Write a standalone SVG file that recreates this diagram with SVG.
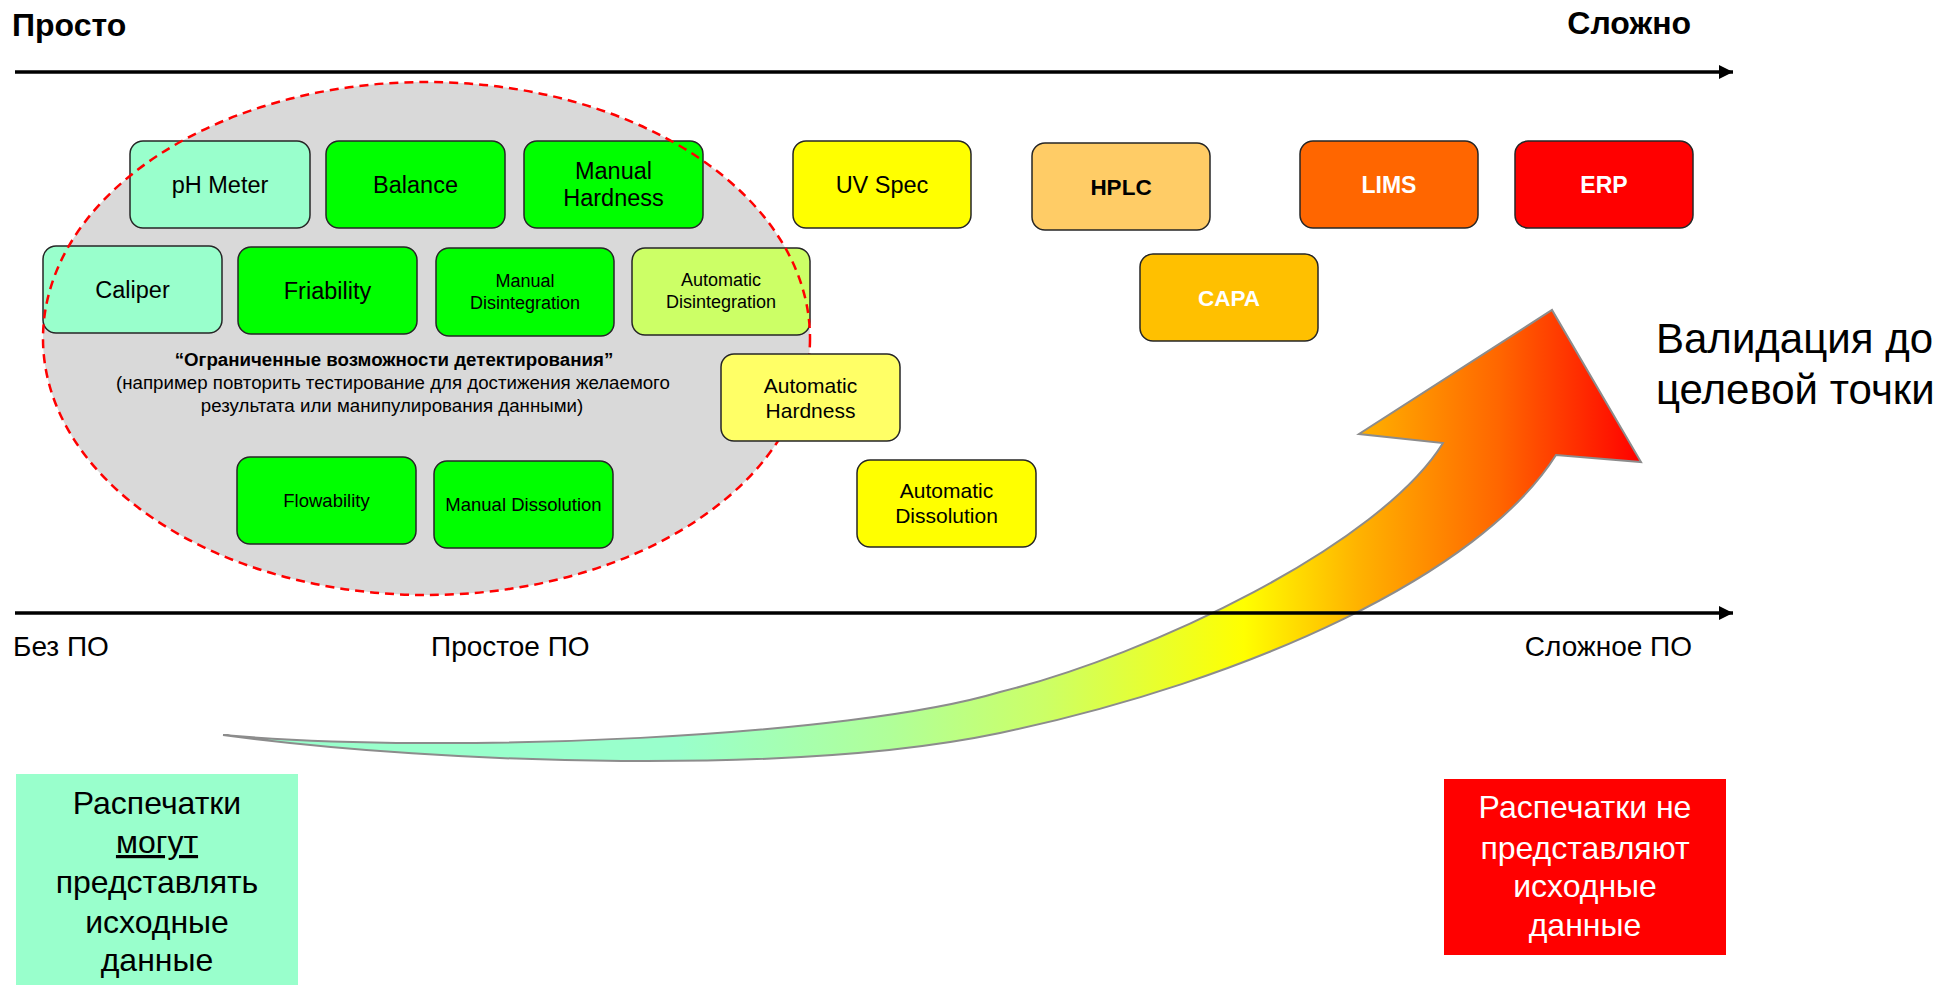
<svg xmlns="http://www.w3.org/2000/svg" width="1942" height="985" viewBox="0 0 1942 985">
<style>
.box{stroke:#262626;stroke-width:1.5}
.t{font-family:"Liberation Sans",Arial,sans-serif;text-anchor:middle;fill:#000}
.b{font-weight:bold}
.w{fill:#fff}
.axis{stroke:#000;stroke-width:3.5;fill:none}
.lbl{font-family:"Liberation Sans",Arial,sans-serif;fill:#000}
</style>
<defs>
<marker id="ah" markerUnits="userSpaceOnUse" markerWidth="16" markerHeight="14" refX="14" refY="7" orient="auto">
<path d="M0,0 L14,7 L0,14 Z" fill="#000"/>
</marker>
<linearGradient id="grad" gradientUnits="userSpaceOnUse" x1="223" y1="0" x2="1641" y2="0">
<stop offset="0" stop-color="#99FFCC"/>
<stop offset="0.32" stop-color="#99FFCC"/>
<stop offset="0.47" stop-color="#B0FF99"/>
<stop offset="0.58" stop-color="#CCFF66"/>
<stop offset="0.72" stop-color="#FFFF00"/>
<stop offset="0.80" stop-color="#FFB300"/>
<stop offset="0.90" stop-color="#FF6600"/>
<stop offset="1" stop-color="#FF0000"/>
</linearGradient>
</defs>
<rect width="1942" height="985" fill="#fff"/>

<text class="lbl b" x="12" y="36" font-size="32">Просто</text>
<text class="lbl b" x="1691" y="34" font-size="32" text-anchor="end">Сложно</text>

<g id="zone">
<ellipse cx="426.5" cy="338.5" rx="383.5" ry="256.5" fill="#D9D9D9"/>
</g>

<g id="connectors">
<path d="M223,735 C450,755 850,737 1000,692 C1150,655 1380,545 1443,443 L1359,434 L1552,310 L1641,462 L1556,455 C1480,575 1250,680 1000,733 C800,775 450,765 223,735 Z" fill="url(#grad)" stroke="#8C8C8C" stroke-width="2" stroke-linejoin="miter"/>
<line class="axis" x1="15" y1="72" x2="1733" y2="72" marker-end="url(#ah)"/>
<line class="axis" x1="15" y1="613" x2="1733" y2="613" marker-end="url(#ah)"/>
</g>

<g id="node-ph">
<rect class="box" x="130" y="141" width="180" height="87" rx="13" fill="#99FFCC"/>
<text class="t" x="220" y="192.5" font-size="23.5">pH Meter</text>
</g>
<g id="node-balance">
<rect class="box" x="326" y="141" width="179" height="87" rx="13" fill="#00FF00"/>
<text class="t" x="415.5" y="192.5" font-size="23.5">Balance</text>
</g>
<g id="node-manual-hardness">
<rect class="box" x="524" y="141" width="179" height="87" rx="13" fill="#00FF00"/>
<text class="t" x="613.5" y="179" font-size="23.5">Manual</text>
<text class="t" x="613.5" y="206" font-size="23.5">Hardness</text>
</g>
<g id="node-caliper">
<rect class="box" x="43" y="246" width="179" height="87" rx="13" fill="#99FFCC"/>
<text class="t" x="132.5" y="298" font-size="23.5">Caliper</text>
</g>
<g id="node-friability">
<rect class="box" x="238" y="247" width="179" height="87" rx="13" fill="#00FF00"/>
<text class="t" x="327.5" y="299" font-size="23.5">Friability</text>
</g>
<g id="node-manual-disintegration">
<rect class="box" x="436" y="248" width="178" height="88" rx="13" fill="#00FF00"/>
<text class="t" x="525" y="287" font-size="18">Manual</text>
<text class="t" x="525" y="309" font-size="18">Disintegration</text>
</g>
<g id="node-auto-disintegration">
<rect class="box" x="632" y="248" width="178" height="87" rx="13" fill="#CCFF66"/>
<text class="t" x="721" y="286" font-size="18">Automatic</text>
<text class="t" x="721" y="308" font-size="18">Disintegration</text>
</g>
<g id="node-flowability">
<rect class="box" x="237" y="457" width="179" height="87" rx="13" fill="#00FF00"/>
<text class="t" x="326.5" y="507" font-size="18.5">Flowability</text>
</g>
<g id="node-manual-dissolution">
<rect class="box" x="434" y="461" width="179" height="87" rx="13" fill="#00FF00"/>
<text class="t" x="523.5" y="511" font-size="18.5">Manual Dissolution</text>
</g>

<g id="zone-outline">
<ellipse cx="426.5" cy="338.5" rx="383.5" ry="256.5" fill="none" stroke="#FF0000" stroke-width="2.5" stroke-dasharray="9 6"/>
<text class="t b" x="394" y="366" font-size="18.7">“Ограниченные возможности детектирования”</text>
<text class="t" x="393" y="389" font-size="18.7">(например повторить тестирование для достижения желаемого</text>
<text class="t" x="392" y="412" font-size="18.7">результата или манипулирования данными)</text>
</g>

<g id="node-auto-hardness">
<rect class="box" x="721" y="354" width="179" height="87" rx="13" fill="#FFFF66"/>
<text class="t" x="810.5" y="392.5" font-size="21">Automatic</text>
<text class="t" x="810.5" y="417.5" font-size="21">Hardness</text>
</g>
<g id="node-auto-dissolution">
<rect class="box" x="857" y="460" width="179" height="87" rx="13" fill="#FFFF00"/>
<text class="t" x="946.5" y="498" font-size="21">Automatic</text>
<text class="t" x="946.5" y="523" font-size="21">Dissolution</text>
</g>
<g id="node-uvspec">
<rect class="box" x="793" y="141" width="178" height="87" rx="13" fill="#FFFF00"/>
<text class="t" x="882" y="192.5" font-size="23.5">UV Spec</text>
</g>
<g id="node-hplc">
<rect class="box" x="1032" y="143" width="178" height="87" rx="13" fill="#FFCC66"/>
<text class="t b" x="1121" y="194.5" font-size="22.5">HPLC</text>
</g>
<g id="node-lims">
<rect class="box" x="1300" y="141" width="178" height="87" rx="13" fill="#FF6600"/>
<text class="t b w" x="1389" y="192.5" font-size="23">LIMS</text>
</g>
<g id="node-erp">
<rect class="box" x="1515" y="141" width="178" height="87" rx="13" fill="#FF0000"/>
<text class="t b w" x="1604" y="192.5" font-size="23">ERP</text>
</g>
<g id="node-capa">
<rect class="box" x="1140" y="254" width="178" height="87" rx="13" fill="#FFC000"/>
<text class="t b w" x="1229" y="305.5" font-size="22.5">CAPA</text>
</g>

<text class="lbl" x="13" y="656" font-size="28">Без ПО</text>
<text class="lbl" x="431" y="656" font-size="28">Простое ПО</text>
<text class="lbl" x="1692" y="656" font-size="28" text-anchor="end">Сложное ПО</text>

<text class="lbl" x="1656" y="353" font-size="42">Валидация до</text>
<text class="lbl" x="1656" y="404" font-size="42">целевой точки</text>

<g id="node-printouts-can">
<rect x="16" y="774" width="282" height="211" fill="#99FFCC"/>
<text class="t" x="157" y="814" font-size="32">Распечатки</text>
<text class="t" x="157" y="853" font-size="32" text-decoration="underline">могут</text>
<text class="t" x="157" y="893" font-size="32">представлять</text>
<text class="t" x="157" y="933" font-size="32">исходные</text>
<text class="t" x="157" y="971" font-size="32">данные</text>
</g>
<g id="node-printouts-cannot">
<rect x="1444" y="779" width="282" height="176" fill="#FF0000"/>
<text class="t w" x="1585" y="818" font-size="32">Распечатки не</text>
<text class="t w" x="1585" y="859" font-size="32">представляют</text>
<text class="t w" x="1585" y="897" font-size="32">исходные</text>
<text class="t w" x="1585" y="936" font-size="32">данные</text>
</g>
</svg>
